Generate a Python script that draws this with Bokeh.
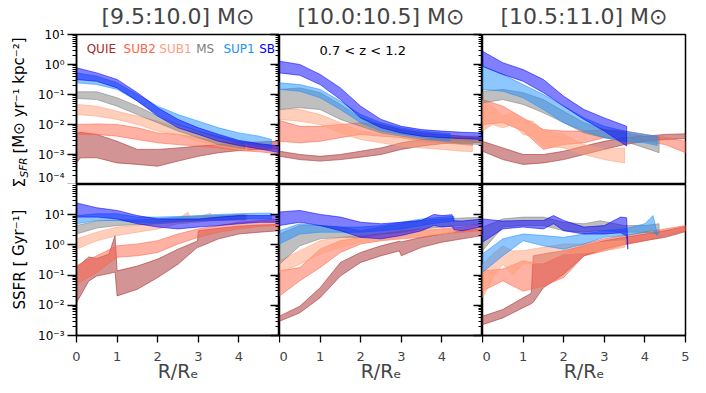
from bokeh.plotting import figure
from bokeh.models import (FixedTicker, LogAxis, LinearAxis, CustomJSTickFormatter,
                          Label, Range1d, Title)
from bokeh.layouts import column, row
from bokeh.embed import file_html
from bokeh.resources import INLINE

FONT = "DejaVu Sans"

# ---------------- categories / labels ----------------
CLASSES = ["QUIE", "SUB2", "SUB1", "MS", "SUP1", "SB"]
CLASS_COLORS = ["brown", "tomato", "lightsalmon", "gray", "dodgerblue", "blue"]
MASS_BINS = ["[9.5:10.0] M\u2299", "[10.0:10.5] M\u2299", "[10.5:11.0] M\u2299"]
Z_LABEL = "0.7 < z < 1.2"
X_LABEL = "R/R\u2091"
Y_TICKS_TOP = [1e-4, 1e-3, 1e-2, 1e-1, 1e0, 1e1]
Y_TICKS_BOT = [1e-3, 1e-2, 1e-1, 1e0, 1e1]
X_TICKS = [0, 1, 2, 3, 4]
X_TICKS_LAST = [0, 1, 2, 3, 4, 5]

R11 = [0, 0.5, 1, 1.5, 2, 2.5, 3, 3.5, 4, 4.5, 5]

# ---------------- data: (R, log10 upper, log10 lower) ----------------
# Sigma_SFR  [Msun/yr/kpc^2], mass bin 9.5-10.0
t1_quie = ([0, 0.1, 0.5, 1, 1.5, 2, 2.5, 3, 3.5, 4, 4.5, 5],
           [-2.28, -2.26, -2.33, -2.56, -2.83, -2.83, -2.78, -2.72, -2.67, -2.61, -2.58, -2.56],
           [-3.28, -3.11, -3.11, -3.28, -3.33, -3.39, -3.22, -3.06, -2.94, -2.87, -2.83, -2.81])
t1_sub2 = (R11,
           [-2.0, -1.98, -2.0, -2.11, -2.28, -2.33, -2.44, -2.56, -2.61, -2.67, -2.72],
           [-2.33, -2.33, -2.39, -2.5, -2.61, -2.67, -2.72, -2.78, -2.87, -2.91, -2.98])
t1_sub1 = ([0, 0.5, 1, 1.5, 2, 2.5, 3, 3.5, 4, 4.2],
           [-1.33, -1.39, -1.56, -1.72, -1.89, -2.11, -2.28, -2.44, -2.56, -2.6],
           [-1.67, -1.72, -1.83, -2.0, -2.22, -2.33, -2.56, -2.72, -2.83, -2.87])
t1_ms = ([0, 0.5, 1, 1.5, 2, 2.5, 3, 3.5, 4, 4.15],
         [-0.91, -0.91, -1.11, -1.39, -1.72, -2.0, -2.22, -2.39, -2.56, -2.6],
         [-1.13, -1.17, -1.39, -1.67, -1.94, -2.22, -2.44, -2.67, -2.78, -2.8])
t1_sup1 = ([0, 0.5, 1, 1.5, 2, 2.5, 3, 3.5, 4, 4.5, 4.8],
           [-0.28, -0.39, -0.61, -1.0, -1.39, -1.67, -1.89, -2.11, -2.28, -2.39, -2.5],
           [-0.61, -0.67, -0.83, -1.22, -1.67, -2.0, -2.22, -2.44, -2.61, -2.72, -2.78])
t1_sb = (R11,
         [-0.11, -0.28, -0.5, -0.94, -1.44, -1.83, -2.11, -2.33, -2.53, -2.64, -2.72],
         [-0.5, -0.56, -0.78, -1.22, -1.72, -2.11, -2.33, -2.56, -2.7, -2.81, -2.94])

# Sigma_SFR, mass bin 10.0-10.5
t2_quie = (R11,
           [-2.89, -3.0, -3.06, -3.0, -2.89, -2.78, -2.61, -2.5, -2.44, -2.44, -2.44],
           [-3.06, -3.17, -3.22, -3.17, -3.09, -3.0, -2.83, -2.72, -2.64, -2.61, -2.6])
t2_sub2 = ([0, 0.5, 1, 1.5, 2, 2.5, 3, 3.5, 4, 4.5, 4.75],
           [-1.87, -2.06, -2.06, -2.0, -1.94, -2.0, -2.17, -2.28, -2.33, -2.39, -2.42],
           [-2.56, -2.61, -2.56, -2.44, -2.33, -2.39, -2.44, -2.56, -2.61, -2.67, -2.7])
t2_sub1 = ([0, 0.5, 1, 1.5, 2, 2.5, 3, 3.5, 4, 4.5, 4.75],
           [-1.5, -1.5, -1.67, -1.94, -2.22, -2.33, -2.44, -2.5, -2.56, -2.58, -2.6],
           [-1.83, -1.89, -2.0, -2.28, -2.5, -2.61, -2.72, -2.78, -2.83, -2.89, -2.9])
t2_ms = (R11,
         [-0.83, -0.78, -0.94, -1.33, -1.78, -2.0, -2.17, -2.28, -2.33, -2.39, -2.39],
         [-1.5, -1.44, -1.5, -1.83, -2.06, -2.28, -2.39, -2.5, -2.56, -2.64, -2.67])
t2_sup1 = ([0, 0.5, 1, 1.5, 2, 2.5, 3, 3.5, 4, 4.2],
           [-0.61, -0.67, -0.83, -1.22, -1.67, -1.94, -2.11, -2.22, -2.28, -2.3],
           [-0.83, -0.89, -1.11, -1.5, -1.94, -2.22, -2.33, -2.44, -2.53, -2.55])
t2_sb = (R11,
         [0.11, 0.0, -0.33, -0.78, -1.39, -1.83, -2.06, -2.17, -2.22, -2.26, -2.28],
         [-0.28, -0.36, -0.67, -1.17, -1.78, -2.11, -2.28, -2.39, -2.44, -2.47, -2.5])

# Sigma_SFR, mass bin 10.5-11.0
t3_quie = (R11,
           [-2.56, -2.78, -3.0, -3.0, -2.89, -2.72, -2.56, -2.44, -2.39, -2.33, -2.31],
           [-2.89, -3.17, -3.33, -3.28, -3.17, -3.0, -2.83, -2.67, -2.56, -2.5, -2.47])
t3_sub2 = (R11,
           [-1.17, -1.39, -1.78, -2.17, -2.22, -2.22, -2.17, -2.22, -2.33, -2.44, -2.56],
           [-2.0, -1.94, -2.22, -2.83, -2.67, -2.61, -2.44, -2.44, -2.56, -2.67, -2.94])
t3_sub1 = ([0, 0.25, 0.5, 0.75, 1, 1.25, 1.5, 2, 2.5, 3, 3.5],
           [-1.22, -1.4, -1.72, -1.6, -1.83, -1.9, -2.22, -2.33, -2.67, -2.83, -2.78],
           [-2.22, -2.0, -2.11, -2.0, -2.33, -2.4, -2.72, -2.78, -3.0, -3.17, -3.28])
t3_ms = ([0, 0.5, 1, 1.5, 2, 2.5, 3, 3.5, 4, 4.35],
         [-0.89, -0.83, -0.94, -1.17, -1.56, -1.94, -2.17, -2.28, -2.39, -2.42],
         [-1.28, -1.17, -1.33, -1.61, -1.94, -2.28, -2.44, -2.56, -2.78, -2.94])
t3_sup1 = ([0, 0.5, 1, 1.5, 2, 2.5, 3, 3.5, 4, 4.3],
           [-0.06, -0.33, -0.67, -1.0, -1.39, -1.78, -2.06, -2.22, -2.33, -2.39],
           [-0.83, -0.89, -1.11, -1.5, -1.94, -2.22, -2.44, -2.56, -2.61, -2.7])
t3_sb = ([0, 0.5, 1, 1.5, 2, 2.5, 3, 3.55],
         [0.44, 0.06, -0.17, -0.5, -1.06, -1.5, -1.78, -2.06],
         [-0.06, -0.33, -0.56, -0.94, -1.39, -1.83, -2.22, -2.72])

# SSFR [1/Gyr], mass bin 9.5-10.0
b1_quie = ([0, 0.3, 0.5, 0.8, 0.95, 1.0, 1.5, 2, 2.5, 2.98, 3.0, 3.5, 4, 4.5, 5],
           [-0.75, -0.4, -0.45, -0.3, 0.31, -0.86, -0.7, -0.47, -0.14, 0.13, 0.47, 0.55, 0.62, 0.66, 0.68],
           [-1.92, -1.2, -1.03, -0.95, -0.9, -1.69, -1.47, -1.08, -0.64, -0.08, -0.08, 0.2, 0.36, 0.42, 0.47])
b1_sub2 = (R11,
           [-0.69, -0.36, -0.03, 0.03, 0.14, 0.36, 0.53, 0.64, 0.75, 0.81, 0.86],
           [-1.3, -0.91, -0.41, -0.36, -0.25, 0.03, 0.25, 0.42, 0.53, 0.61, 0.64])
b1_sub1 = ([0, 0.5, 1, 1.5, 2, 2.5, 2.75, 2.8, 3, 3.3, 3.35, 3.5, 4, 4.2],
           [0.2, 0.42, 0.59, 0.64, 0.75, 0.86, 1.08, 0.9, 0.92, 1.05, 0.95, 0.97, 1.01, 1.02],
           [-0.14, 0.14, 0.31, 0.42, 0.53, 0.7, 0.72, 0.74, 0.75, 0.8, 0.8, 0.81, 0.83, 0.83])
b1_ms = ([0, 0.5, 1, 1.5, 2, 2.5, 3, 3.5, 4, 4.15],
         [0.64, 0.79, 0.83, 0.83, 0.86, 0.92, 0.95, 0.97, 0.99, 1.0],
         [0.36, 0.56, 0.64, 0.67, 0.7, 0.75, 0.79, 0.81, 0.83, 0.83])
b1_sup1 = ([0, 0.5, 1, 1.5, 2, 2.5, 3, 3.5, 4, 4.5, 4.8],
           [0.97, 1.03, 1.03, 0.92, 0.92, 0.94, 0.97, 1.01, 1.03, 1.05, 1.05],
           [0.7, 0.81, 0.81, 0.75, 0.75, 0.79, 0.81, 0.83, 0.86, 0.86, 0.86])
b1_sb = (R11,
         [1.39, 1.23, 1.14, 0.97, 0.86, 0.86, 0.86, 0.92, 0.97, 0.97, 0.97],
         [0.92, 0.92, 0.86, 0.7, 0.59, 0.53, 0.59, 0.64, 0.7, 0.75, 0.75])

# SSFR, mass bin 10.0-10.5
b2_quie = ([0, 0.5, 1, 1.5, 2, 2.5, 2.95, 3.0, 3.5, 4, 4.5, 5],
           [-2.36, -2.03, -1.42, -0.58, -0.25, -0.03, 0.12, 0.1, 0.25, 0.36, 0.47, 0.53],
           [-2.53, -2.25, -1.75, -1.03, -0.58, -0.36, -0.2, -0.36, -0.08, 0.09, 0.2, 0.31])
b2_sub2 = (R11,
           [-0.86, -0.75, -0.14, 0.14, 0.25, 0.36, 0.42, 0.47, 0.53, 0.59, 0.7],
           [-1.69, -1.19, -0.75, -0.25, 0.03, 0.14, 0.2, 0.25, 0.36, 0.42, 0.47])
b2_sub1 = ([0, 0.5, 1, 1.5, 2, 2.5, 3, 3.5, 4, 4.3],
           [-0.53, -0.19, 0.14, 0.25, 0.31, 0.36, 0.47, 0.53, 0.53, 0.58],
           [-0.91, -0.64, -0.3, -0.08, 0.09, 0.14, 0.25, 0.31, 0.36, 0.42])
b2_ms = (R11,
         [0.36, 0.64, 0.64, 0.59, 0.47, 0.59, 0.7, 0.81, 0.86, 0.89, 0.92],
         [-0.64, -0.03, 0.2, 0.25, 0.25, 0.36, 0.42, 0.53, 0.59, 0.64, 0.7])
b2_sup1 = ([0, 0.5, 1, 1.5, 2, 2.5, 3, 3.5, 4, 4.3],
           [0.47, 0.7, 0.64, 0.59, 0.59, 0.64, 0.75, 0.86, 0.92, 0.94],
           [0.03, 0.36, 0.42, 0.42, 0.42, 0.47, 0.53, 0.64, 0.75, 0.78])
b2_sb = ([0, 0.5, 1, 1.5, 2, 2.5, 3, 3.5, 3.8, 4, 4.25, 4.3, 4.5, 5],
         [1.09, 1.14, 1.01, 0.92, 0.75, 0.7, 0.75, 0.81, 1.01, 0.97, 1.0, 0.8, 0.79, 0.86],
         [0.64, 0.75, 0.64, 0.47, 0.25, 0.2, 0.31, 0.47, 0.64, 0.59, 0.62, 0.5, 0.47, 0.6])

# SSFR, mass bin 10.5-11.0
b3_quie = ([0, 0.5, 1, 1.2, 1.25, 1.5, 2, 2.5, 3, 3.5, 4, 4.5, 5],
           [-2.36, -2.14, -1.75, -1.6, -0.36, -0.3, -0.19, -0.03, 0.14, 0.25, 0.36, 0.47, 0.61],
           [-2.64, -2.42, -2.08, -1.95, -1.9, -1.42, -0.97, -0.36, -0.14, 0.03, 0.14, 0.25, 0.44])
b3_sub2 = (R11,
           [-0.86, -0.8, -0.53, -0.64, -0.3, 0.03, 0.2, 0.31, 0.42, 0.53, 0.64],
           [-1.53, -1.19, -1.53, -1.36, -1.08, -0.36, -0.2, 0.0, 0.14, 0.31, 0.47])
b3_sub1 = ([0, 0.25, 0.5, 0.75, 1, 1.5, 2, 2.5, 3, 3.5],
           [-0.64, -0.3, -0.03, -0.2, -0.19, -0.08, 0.03, 0.03, 0.09, 0.14],
           [-1.75, -1.1, -0.64, -1.0, -0.64, -0.58, -0.3, -0.25, -0.19, -0.08])
b3_ms = ([0, 0.5, 1, 1.5, 2, 2.5, 2.9, 3.5, 4, 4.35],
         [0.59, 0.86, 0.92, 0.92, 0.75, 0.7, 0.8, 0.64, 0.64, 0.7],
         [-0.19, 0.59, 0.64, 0.64, 0.47, 0.42, 0.48, 0.42, 0.42, 0.36])
b3_sup1 = ([0, 0.5, 1, 1.5, 2, 2.5, 3, 3.5, 4, 4.2, 4.3],
           [-0.3, 0.2, 0.36, 0.31, 0.25, 0.36, 0.47, 0.53, 0.7, 0.97, 0.4],
           [-0.91, -0.36, 0.14, -0.03, -0.14, 0.03, 0.25, 0.31, 0.42, 0.5, 0.3])
b3_sb = ([0, 0.5, 1, 1.5, 1.75, 2, 2.5, 3, 3.4, 3.55, 3.58],
         [0.86, 0.79, 0.81, 0.81, 0.97, 0.81, 0.59, 0.64, 0.92, 0.9, -0.05],
         [0.09, 0.53, 0.59, 0.53, 0.7, 0.47, 0.36, 0.36, 0.4, 0.3, -0.14])

TOP_PANELS = [[t1_quie, t1_sub2, t1_sub1, t1_ms, t1_sup1, t1_sb],
              [t2_quie, t2_sub2, t2_sub1, t2_ms, t2_sup1, t2_sb],
              [t3_quie, t3_sub2, t3_sub1, t3_ms, t3_sup1, t3_sb]]
BOT_PANELS = [[b1_quie, b1_sub2, b1_sub1, b1_ms, b1_sup1, b1_sb],
              [b2_quie, b2_sub2, b2_sub1, b2_ms, b2_sup1, b2_sb],
              [b3_quie, b3_sub2, b3_sub1, b3_ms, b3_sup1, b3_sb]]

SUP_JS = """
const e = Math.round(Math.log10(tick));
const m = {'-':'\u207b','0':'\u2070','1':'\u00b9','2':'\u00b2','3':'\u00b3','4':'\u2074',
           '5':'\u2075','6':'\u2076','7':'\u2077','8':'\u2078','9':'\u2079'};
return '10' + String(e).split('').map(c => m[c]).join('');
"""

LABEL_W = 34


def minor_list(e0, e1):
    return [m * 10.0 ** e for e in range(e0, e1) for m in range(2, 10)]


def draw_band(p, band, color):
    r, hi, lo = band
    xs = list(r) + list(r)[::-1]
    ys = [10.0 ** v for v in hi] + [10.0 ** v for v in lo][::-1]
    p.patch(xs, ys, fill_color=color, fill_alpha=0.5,
            line_color=color, line_alpha=0.55, line_width=1)


def make_panel(ri, ci):
    top = ri == 0
    ylo, yhi = (1e-4, 1e1) if top else (1e-3, 1e2)
    p = figure(frame_width=203, frame_height=150 if top else 151,
               x_range=Range1d(0, 5), y_range=Range1d(ylo, yhi),
               y_axis_type="log", x_axis_location=None, y_axis_location=None,
               output_backend="svg", toolbar_location=None, tools="",
               min_border_left=(76 - LABEL_W) if ci == 0 else 0,
               min_border_right=10 if ci == 2 else 0,
               min_border_top=33 if top else 0, min_border_bottom=0)
    p.grid.visible = False
    p.outline_line_color = "black"
    p.outline_line_width = 1.5
    p.outline_line_alpha = 1.0
    p.background_fill_color = "white"
    p.border_fill_color = "white"

    majors = Y_TICKS_TOP if top else Y_TICKS_BOT
    minors = minor_list(-4, 1) if top else minor_list(-3, 2)

    if ci == 0:
        ax = LogAxis(ticker=FixedTicker(ticks=majors, minor_ticks=minors),
                     formatter=CustomJSTickFormatter(code=SUP_JS),
                     major_tick_out=9, major_tick_in=0, minor_tick_out=4, minor_tick_in=0,
                     major_tick_line_width=1.3, minor_tick_line_width=1,
                     axis_line_width=1.5, major_label_standoff=3,
                     major_label_text_font=FONT, major_label_text_font_size="12px",
                     major_label_text_color="black")
        p.add_layout(ax, "left")
    if ci < 2:
        rax = LogAxis(ticker=FixedTicker(ticks=majors, minor_ticks=minors),
                      formatter=CustomJSTickFormatter(code="return '';"),
                      major_tick_out=0, major_tick_in=9, minor_tick_out=0, minor_tick_in=4,
                      major_tick_line_width=1.3, minor_tick_line_width=1,
                      axis_line_color=None, major_label_standoff=0,
                      major_label_text_font_size="1px")
        p.add_layout(rax, "right")

    if not top:
        xax = LinearAxis(ticker=FixedTicker(ticks=X_TICKS_LAST if ci == 2 else X_TICKS,
                                            minor_ticks=[]),
                         major_tick_out=7, major_tick_in=0, minor_tick_out=0, minor_tick_in=0,
                         major_tick_line_width=1.3, axis_line_width=1.5,
                         major_label_standoff=9,
                         major_label_text_font=FONT, major_label_text_font_size="13px",
                         axis_label=X_LABEL, axis_label_text_font=FONT,
                         axis_label_text_font_size="19px", axis_label_text_font_style="normal",
                         axis_label_standoff=-4)
        p.add_layout(xax, "below")

    if top:
        p.title.text = MASS_BINS[ci]
        p.title.align = "center"
        p.title.text_font = FONT
        p.title.text_font_size = "22px"
        p.title.text_font_style = "normal"
        p.title.standoff = 3
        # tiny blank spacer title above the real one
        p.add_layout(Title(text=" ", text_font_size="2px", standoff=0), "above")

    bands = TOP_PANELS[ci] if top else BOT_PANELS[ci]
    for band, col in zip(bands, CLASS_COLORS):
        draw_band(p, band, col)
    return p


panels = [[make_panel(r, c) for c in range(3)] for r in range(2)]
p1 = panels[0][0]
p2 = panels[0][1]

# legend-like coloured words in the first panel
legend_x = [0.25, 1.16, 2.04, 2.95, 3.62, 4.5]
for name, col, lx in zip(CLASSES, CLASS_COLORS, legend_x):
    p1.add_layout(Label(x=lx, y=3.4, text=name, text_color=col, text_font=FONT,
                        text_font_size="12px", text_baseline="middle", text_align="left"))

p2.add_layout(Label(x=0.985, y=2.95, text=Z_LABEL, text_color="black", text_font=FONT,
                    text_font_size="13px", text_baseline="middle", text_align="left"))

# strip on the left that carries the two rotated y-axis titles
lab = figure(frame_width=LABEL_W, frame_height=334, x_range=Range1d(0, 1),
             y_range=Range1d(0, 1), x_axis_location=None, y_axis_location=None,
             output_backend="svg", toolbar_location=None, tools="",
             min_border_left=0, min_border_right=0, min_border_top=0, min_border_bottom=0)
lab.grid.visible = False
lab.outline_line_color = None
lab.background_fill_color = "white"
lab.border_fill_color = "white"

lab.add_layout(Label(x=19, y=147, x_units="screen", y_units="screen", text="\u03a3",
                     angle=1.5708, text_font=FONT, text_font_size="15px",
                     text_baseline="middle", text_align="left", text_color="black"))
lab.add_layout(Label(x=23, y=157, x_units="screen", y_units="screen", text="SFR",
                     angle=1.5708, text_font=FONT, text_font_size="10.5px",
                     text_font_style="italic",
                     text_baseline="middle", text_align="left", text_color="black"))
lab.add_layout(Label(x=19, y=181, x_units="screen", y_units="screen",
                     text="[M\u2299 yr\u207b\u00b9 kpc\u207b\u00b2]",
                     angle=1.5708, text_font=FONT, text_font_size="15px",
                     text_baseline="middle", text_align="left", text_color="black"))
lab.add_layout(Label(x=19, y=75, x_units="screen", y_units="screen",
                     text="SSFR [ Gyr\u207b\u00b9]",
                     angle=1.5708, text_font=FONT, text_font_size="15px",
                     text_baseline="middle", text_align="center", text_color="black"))

layout = row(lab, column(row(*panels[0]), row(*panels[1])))

with open("out.html", "w") as f:
    f.write(file_html(layout, INLINE))
